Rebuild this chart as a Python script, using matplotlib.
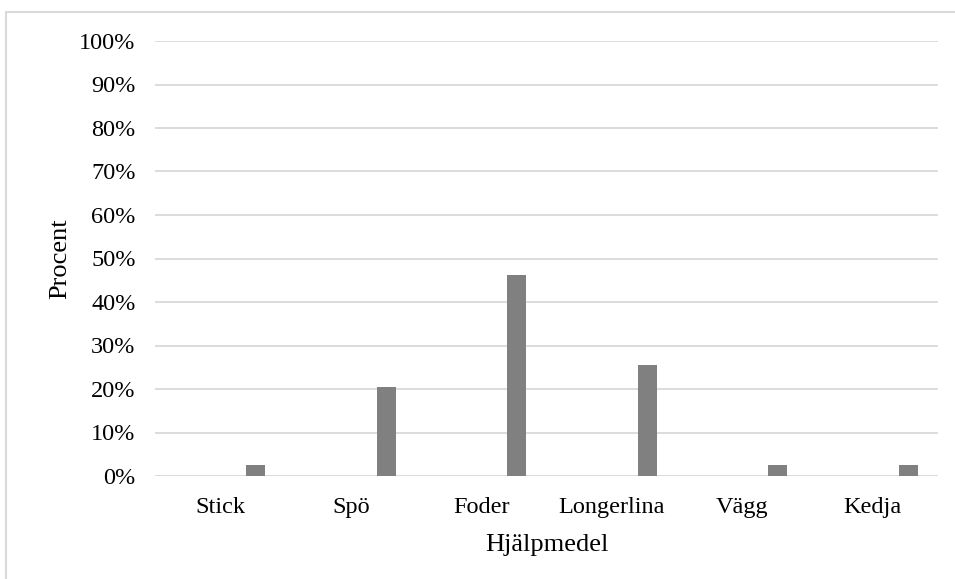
import matplotlib.pyplot as plt
import matplotlib.ticker as ticker
from matplotlib.patches import Rectangle
import numpy as np

# Hjälpmedel och andel (procent)
categories = ["Stick", "Spö", "Foder", "Longerlina", "Vägg", "Kedja"]
values = [2.6, 20.5, 46.2, 25.6, 2.6, 2.6]

plt.rcParams["font.family"] = ["Liberation Serif", "DejaVu Serif"]

fig = plt.figure(figsize=(9.55, 5.79), dpi=100)
ax = fig.add_axes([155 / 955, 1 - 476 / 579, (938 - 155) / 955, (476 - 41) / 579])

# light frame around the chart area
fig.patches.append(Rectangle((6 / 955, -0.1), 1.2, 1 - 12 / 579 + 0.1,
                             transform=fig.transFigure, fill=False,
                             edgecolor="#d9d9d9", linewidth=1.5))

x = np.arange(len(categories))
ax.bar(x + 0.272, np.array(values) / 100, width=0.146, color="#808080", zorder=3)

ax.set_xlim(-0.5, len(categories) - 0.5)
ax.set_ylim(0, 1)
ax.set_yticks(np.arange(0, 1.01, 0.1))
ax.yaxis.set_major_formatter(ticker.PercentFormatter(1.0, decimals=0))
ax.set_xticks(x)
ax.set_xticklabels(categories)
ax.tick_params(axis="both", length=0, labelsize=17.5)
ax.tick_params(axis="x", pad=15)
ax.tick_params(axis="y", pad=14)
ax.grid(axis="y", color="#d9d9d9", linewidth=1.3, zorder=0)
for s in ax.spines.values():
    s.set_visible(False)

ax.set_xlabel("Hjälpmedel", fontsize=19, labelpad=12)
ax.set_ylabel("Procent", fontsize=19, labelpad=6)

fig.savefig("out.png", dpi=100)
